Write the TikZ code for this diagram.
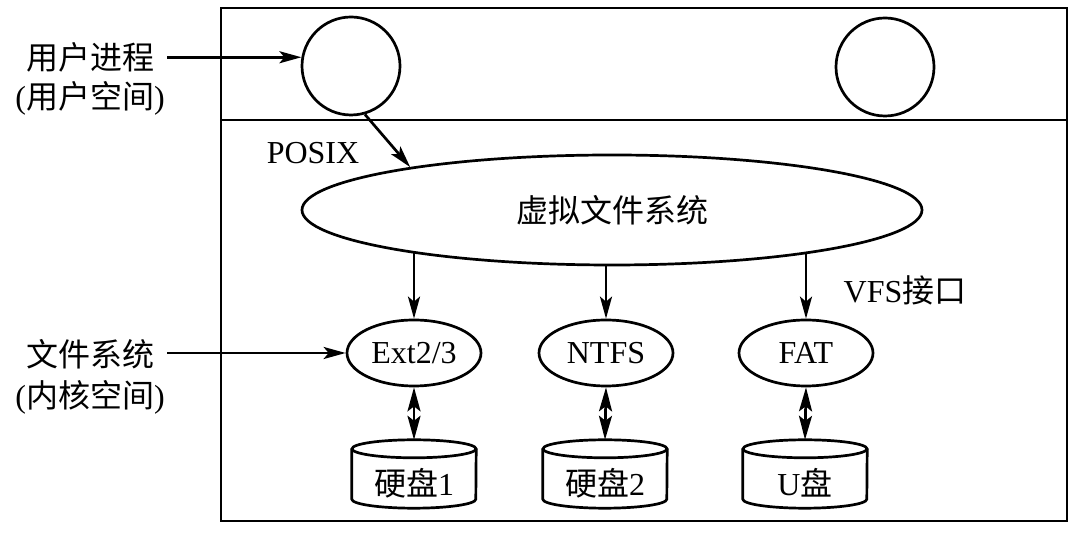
\documentclass[tikz,border=0pt]{standalone}
\usepackage{fontspec}
\setmainfont{Liberation Serif}
\newfontfamily\cjk{Noto Sans CJK SC}
\usetikzlibrary{shapes.geometric,arrows.meta}
\tikzset{
  base/.style={line width=2.7pt},
  tip/.style={base,-{Stealth[length=22pt,width=12pt,inset=5pt]}},
  dtip/.style={base,{Stealth[length=24pt,width=13pt,inset=5pt]}-{Stealth[length=24pt,width=13pt,inset=5pt]}},
  proc/.style={base,draw,circle,minimum size=98pt,inner sep=0pt},
  fsell/.style={base,draw,ellipse,minimum width=134pt,minimum height=66pt,inner sep=0pt},
  disk/.style={rectangle,minimum width=124pt,minimum height=68pt,inner sep=0pt},
  lbl/.style={inner sep=0pt,font=\fontsize{32}{38}\selectfont}
}
\newcommand{\mycyl}[1]{%
  \draw[base] ([yshift=-9pt]#1.north west) -- ([yshift=9pt]#1.south west)
    arc[start angle=180,end angle=360,x radius=62pt,y radius=9pt]
    -- ([yshift=-9pt]#1.north east);
  \draw[base] ([yshift=-9pt]#1.north) ellipse[x radius=62pt,y radius=9pt];
}
\begin{document}
\begin{tikzpicture}[x=1pt,y=1pt,every node/.style={font=\fontsize{32}{38}\selectfont}]
\useasboundingbox (0,0) rectangle (1075,534);
% outer frame
\draw[base] (221,13) rectangle (1067,526);
\draw[base] (221,414) -- (1067,414);
% user processes
\node[proc] (c1) at (351,468) {};
\node[proc] (c2) at (885,467) {};
% VFS
\node[base,draw,ellipse,minimum width=620pt,minimum height=110pt,inner sep=0pt] (vfs) at (612,324) {\cjk 虚拟文件系统};
% file systems
\node[fsell] (ext) at (414,181) {Ext2/3};
\node[fsell] (ntfs) at (606,181) {NTFS};
\node[fsell] (fat) at (806,181) {FAT};
% disks
\node[disk] (d1) at (414,60) {};
\node[disk] (d2) at (605,60) {};
\node[disk] (d3) at (805,60) {};
\mycyl{d1}\mycyl{d2}\mycyl{d3}
\node[lbl] (t1) at (414,51) {{\cjk 硬盘}1};
\node[lbl] (t2) at (605,51) {{\cjk 硬盘}2};
\node[lbl] (t3) at (805,51) {U{\cjk 盘}};
% labels
\node[lbl] (up) at (90,477) {\cjk 用户进程};
\node[lbl] (us) at (90,436) {({\cjk 用户空间})};
\node[lbl] (fs) at (90,180) {\cjk 文件系统};
\node[lbl] (ks) at (90,137) {({\cjk 内核空间})};
\node[lbl] (posix) at (313,381) {POSIX};
\node[lbl] (vfsif) at (905,244) {VFS{\cjk 接口}};
% arrows
\draw[tip] ([xshift=13pt]up.east |- c1.170) -- (c1.170);
\draw[tip] ([xshift=13pt]fs.east |- ext.west) -- (ext.west);
\draw[tip] (c1.-74) -- (vfs.168);
\draw[tip] (vfs.192 -| ext.north) -- (ext.north);
\draw[tip] (vfs.south -| ntfs.north) -- (ntfs.north);
\draw[tip] (vfs.348 -| fat.north) -- (fat.north);
\draw[dtip] (ext.south) -- (d1.north);
\draw[dtip] (ntfs.south) -- (d2.north);
\draw[dtip] (fat.south) -- (d3.north);
\end{tikzpicture}
\end{document}
